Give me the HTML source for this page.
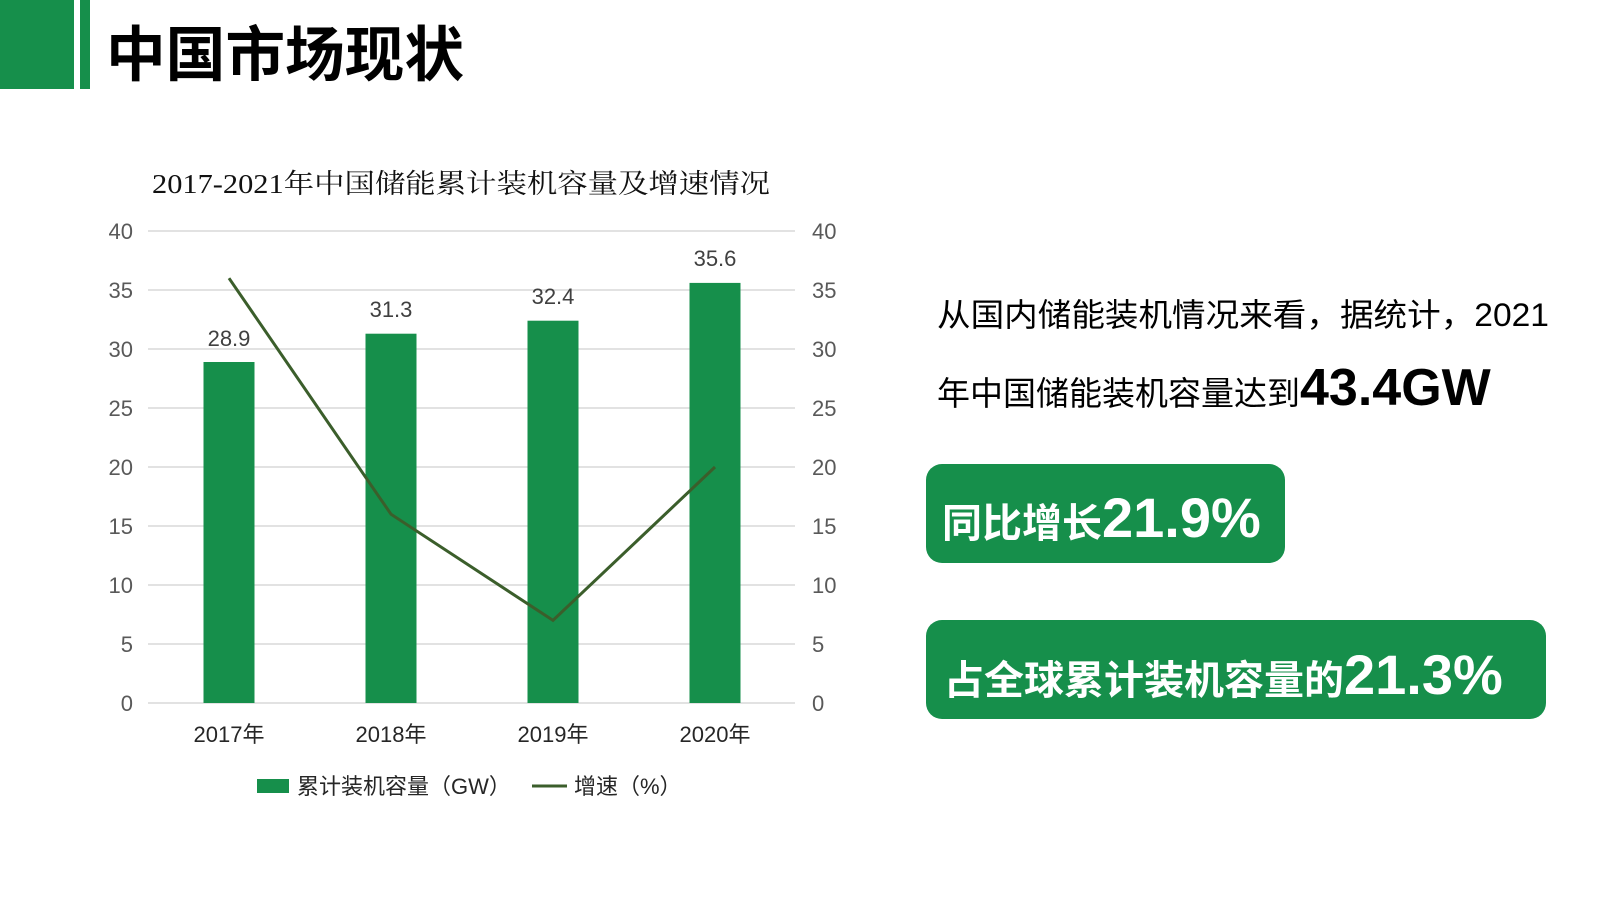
<!DOCTYPE html>
<html><head><meta charset="utf-8"><style>
html,body{margin:0;padding:0;background:#fff;}
svg{display:block;}
</style></head><body>
<svg width="1600" height="900" viewBox="0 0 1600 900" xmlns="http://www.w3.org/2000/svg" font-family="'Liberation Sans','Noto Sans CJK SC',sans-serif">
<rect x="0" y="0" width="74" height="89" fill="#168f4b"/>
<rect x="80" y="0" width="10" height="89" fill="#168f4b"/>
<text x="106" y="76" font-size="60" font-weight="bold" fill="#000" textLength="358" lengthAdjust="spacingAndGlyphs">中国市场现状</text>
<text x="152" y="193" font-size="27" fill="#111" font-family="'Liberation Serif','Noto Serif CJK SC',serif" textLength="618" lengthAdjust="spacingAndGlyphs">2017-2021年中国储能累计装机容量及增速情况</text>
<g stroke="#d9d9d9" stroke-width="1.5">
<line x1="148" x2="795" y1="231" y2="231"/><line x1="148" x2="795" y1="290" y2="290"/>
<line x1="148" x2="795" y1="349" y2="349"/><line x1="148" x2="795" y1="408" y2="408"/>
<line x1="148" x2="795" y1="467" y2="467"/><line x1="148" x2="795" y1="526" y2="526"/>
<line x1="148" x2="795" y1="585" y2="585"/><line x1="148" x2="795" y1="644" y2="644"/>
<line x1="148" x2="795" y1="703" y2="703"/>
</g>
<g font-size="22" fill="#595959">
<g text-anchor="end">
<text x="133" y="239">40</text><text x="133" y="298">35</text><text x="133" y="357">30</text><text x="133" y="416">25</text><text x="133" y="475">20</text><text x="133" y="534">15</text><text x="133" y="593">10</text><text x="133" y="652">5</text><text x="133" y="711">0</text>
</g>
<text x="812" y="239">40</text><text x="812" y="298">35</text><text x="812" y="357">30</text><text x="812" y="416">25</text><text x="812" y="475">20</text><text x="812" y="534">15</text><text x="812" y="593">10</text><text x="812" y="652">5</text><text x="812" y="711">0</text>
</g>
<g fill="#168f4b">
<rect x="203.5" y="362" width="51" height="341"/>
<rect x="365.5" y="333.7" width="51" height="369.3"/>
<rect x="527.5" y="320.7" width="51" height="382.3"/>
<rect x="689.5" y="282.9" width="51" height="420.1"/>
</g>
<g font-size="22" fill="#404040" text-anchor="middle">
<text x="229" y="346">28.9</text><text x="391" y="317">31.3</text><text x="553" y="304">32.4</text><text x="715" y="266">35.6</text>
</g>
<polyline points="229,278.2 391,514.2 553,620.4 715,467" fill="none" stroke="#3b5e2b" stroke-width="3"/>
<g font-size="22" fill="#262626" text-anchor="middle">
<text x="229" y="742">2017年</text><text x="391" y="742">2018年</text><text x="553" y="742">2019年</text><text x="715" y="742">2020年</text>
</g>
<rect x="257" y="779" width="32" height="14" fill="#168f4b"/>
<text x="297" y="794" font-size="22" fill="#262626">累计装机容量（GW）</text>
<line x1="532" x2="567" y1="786" y2="786" stroke="#3b5e2b" stroke-width="3"/>
<text x="574" y="794" font-size="22" fill="#262626">增速（%）</text>
<text x="937" y="326" font-size="32" fill="#000" textLength="612" lengthAdjust="spacingAndGlyphs">从国内储能装机情况来看，据统计，2021</text>
<text x="937" y="405" font-size="33" fill="#000">年中国储能装机容量达到<tspan font-size="52" font-weight="bold">43.4GW</tspan></text>
<rect x="926" y="464" width="359" height="99" rx="16" fill="#168f4b"/>
<text x="942" y="537" font-size="40" font-weight="bold" fill="#fff">同比增长<tspan font-size="56">21.9%</tspan></text>
<rect x="926" y="620" width="620" height="99" rx="16" fill="#168f4b"/>
<text x="944" y="694" font-size="40" font-weight="bold" fill="#fff">占全球累计装机容量的<tspan font-size="56">21.3%</tspan></text>
</svg>
</body></html>
